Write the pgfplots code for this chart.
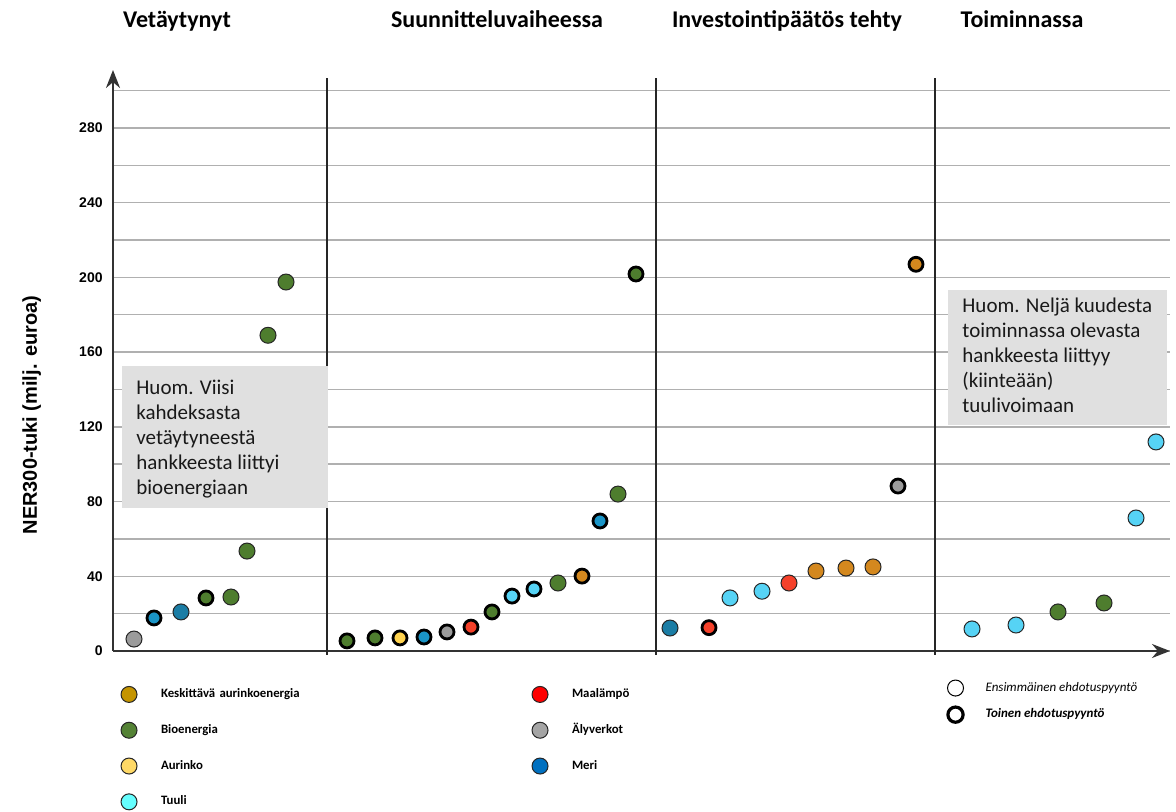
\documentclass[border=0pt]{standalone}
\usepackage{pgfplots}
\pgfplotsset{compat=1.18}
\usepackage{fontspec}
\setmainfont{Carlito}
\newfontfamily\arialf{Liberation Sans}
\usetikzlibrary{arrows.meta}
\definecolor{greenP}{HTML}{4E7D2E}
\definecolor{cyanP}{HTML}{56D3F5}
\definecolor{orangeP}{HTML}{D4881E}
\definecolor{redP}{HTML}{F5412A}
\definecolor{yellowP}{HTML}{FFD34F}
\definecolor{greyP}{HTML}{9B9B9B}
\definecolor{blueA}{HTML}{1A95C7}
\definecolor{blueB}{HTML}{1B7DA5}
\definecolor{lgGold}{HTML}{C49400}
\definecolor{lgBio}{HTML}{548235}
\definecolor{lgSun}{HTML}{FFD966}
\definecolor{lgWind}{HTML}{66FFFF}
\definecolor{lgGeo}{HTML}{FF0000}
\definecolor{lgGrid}{HTML}{A5A5A5}
\definecolor{lgSea}{HTML}{0070C0}
\definecolor{boxgray}{HTML}{E0E0E0}
\definecolor{gridgray}{HTML}{B0B0B0}
\pgfplotsset{
  thinpt/.style={only marks, mark=*, mark size=4pt, forget plot,
     mark options={draw=black!85, line width=0.5pt, fill=#1}},
  thickpt/.style={only marks, mark=*, mark size=3.5pt, forget plot,
     mark options={draw=black, line width=1.4pt, fill=#1}},
  lgpt/.style={only marks, mark=*, mark size=4pt,
     mark options={draw=black!85, line width=0.5pt, fill=#1}},
}
\begin{document}
\begin{tikzpicture}
\begin{axis}[
  name=main, at={(0,0)}, anchor=south west,
  scale only axis, width=528.5pt, height=290.5pt,
  xmin=113, xmax=1170, ymin=0, ymax=311,
  axis x line=bottom, axis y line=left,
  axis line style={draw=black!80, line width=1pt, -{Stealth[length=9pt,width=7pt]}},
  xtick=\empty,
  ytick={0,40,...,280}, minor ytick={20,60,...,300},
  ymajorgrids, yminorgrids,
  major grid style={gridgray, line width=0.75pt},
  minor grid style={gridgray, line width=0.75pt},
  major tick length=0pt, minor tick length=0pt,
  /pgf/number format/assume math mode=true,
  yticklabel style={font=\arialf\bfseries\fontsize{7}{8}\selectfont, inner sep=0pt, xshift=-5pt},
  ylabel={NER300-tuki (milj. euroa)},
  ylabel style={font=\arialf\bfseries\fontsize{10}{12}\selectfont, at={(axis description cs:-0.077,0.406)}, anchor=center},
  clip=false,
  legend image code/.code={\draw[#1] plot coordinates {(0pt,0pt)};},
  transpose legend, legend columns=4, legend cell align=left,
  legend style={at={(axis description cs:0.0076,-0.0610)}, anchor=north west,
    draw=none, fill=none, inner sep=0pt, outer sep=0pt,
    font=\bfseries\fontsize{6.4}{7.5}\selectfont,
    row sep=9.9pt, column sep=0pt,
    /tikz/every odd column/.append style={column sep=12pt},
    nodes={text width=185.5pt, inner sep=0pt, align=left}},
]
% grey
\addplot[thinpt=greyP] coordinates {(134,6.4)};
\addplot[thickpt=greyP] coordinates {(447,10.2) (898,88.3)};
% blue
\addplot[thickpt=blueA] coordinates {(154,17.7) (424,7.5) (600,69.6)};
\addplot[thinpt=blueB] coordinates {(181,20.9) (670,12.3)};
% green
\addplot[thickpt=greenP] coordinates {(206,28.4) (347,5.4) (375,7.0) (492,20.9) (636,201.8)};
\addplot[thinpt=greenP] coordinates {(231,28.9) (247,53.5) (268,169) (286,197.5) (558,36.4) (618,84) (1058,20.9) (1104,25.7)};
% yellow
\addplot[thickpt=yellowP] coordinates {(400,7.0)};
% red
\addplot[thickpt=redP] coordinates {(471,12.8) (709,12.5)};
\addplot[thinpt=redP] coordinates {(789,36.4)};
% cyan
\addplot[thickpt=cyanP] coordinates {(512,29.4) (534,33.2)};
\addplot[thinpt=cyanP] coordinates {(730,28.4) (762,32.0) (972,11.8) (1016,13.9) (1136,71.2) (1156,111.9)};
% orange
\addplot[thickpt=orangeP] coordinates {(582,40.1) (916,207)};
\addplot[thinpt=orangeP] coordinates {(816,42.8) (846,44.4) (873,45.0)};

% legend
\addlegendimage{lgpt=lgGold}\addlegendentry{Keskittävä aurinkoenergia}
\addlegendimage{lgpt=lgBio}\addlegendentry{Bioenergia}
\addlegendimage{lgpt=lgSun}\addlegendentry{Aurinko}
\addlegendimage{lgpt=lgWind}\addlegendentry{Tuuli}
\addlegendimage{lgpt=lgGeo}\addlegendentry{Maalämpö}
\addlegendimage{lgpt=lgGrid}\addlegendentry{Älyverkot}
\addlegendimage{lgpt=lgSea}\addlegendentry{Meri}
\addlegendimage{empty legend}\addlegendentry{}

% section dividers
\draw[black!85, line width=0.8pt] (axis cs:327,-2) -- (axis cs:327,306.5);
\draw[black!85, line width=0.8pt] (axis cs:656,-2) -- (axis cs:656,306.5);
\draw[black!85, line width=0.8pt] (axis cs:935,-2) -- (axis cs:935,306.5);

% headers
\node[anchor=base, font=\bfseries\fontsize{12}{14}\selectfont] at (axis cs:177,333.8) {Vetäytynyt};
\node[anchor=base, font=\bfseries\fontsize{12}{14}\selectfont] at (axis cs:497,333.8) {Suunnitteluvaiheessa};
\node[anchor=base, font=\bfseries\fontsize{12}{14}\selectfont] at (axis cs:787,333.8) {Investointipäätös tehty};
\node[anchor=base, font=\bfseries\fontsize{12}{14}\selectfont] at (axis cs:1022,333.8) {Toiminnassa};

% note boxes
\fill[boxgray] (axis cs:122,76.6) rectangle (axis cs:328,152.6);
\node[anchor=north west, align=left, inner sep=0pt, text=black!90,
  font=\fontsize{10.5}{12.5}\selectfont] at (axis cs:136,145.3)
  {Huom. Viisi\\kahdeksasta\\vetäytyneestä\\hankkeesta liittyi\\bioenergiaan};
\fill[boxgray] (axis cs:948,121) rectangle (axis cs:1167,193.3);
\node[anchor=north west, align=left, inner sep=0pt, text=black!90,
  font=\fontsize{10.5}{12.5}\selectfont] at (axis cs:962,189.2)
  {Huom. Neljä kuudesta\\toiminnassa olevasta\\hankkeesta liittyy\\(kiinteään)\\tuulivoimaan};
\end{axis}

\begin{axis}[
  at={(0,0)}, anchor=south west,
  scale only axis, width=528.5pt, height=290.5pt,
  xmin=0, xmax=1, ymin=0, ymax=1, hide axis,
  legend image code/.code={\draw[#1] plot coordinates {(0pt,0pt)};},
  legend columns=1, legend cell align=left,
  legend style={at={(axis description cs:0.7895,-0.0500)}, anchor=north west,
    draw=none, fill=none, inner sep=0pt, outer sep=0pt,
    row sep=5.5pt, column sep=0pt,
    /tikz/every odd column/.append style={column sep=11pt},
    nodes={inner sep=0pt}},
]
\addlegendimage{only marks, mark=*, mark size=4pt, mark options={draw=black, line width=0.5pt, fill=white}}
\addlegendentry{\itshape\fontsize{6.5}{7.5}\selectfont Ensimmäinen ehdotuspyyntö}
\addlegendimage{only marks, mark=*, mark size=3.8pt, mark options={draw=black, line width=1.6pt, fill=white}}
\addlegendentry{\bfseries\itshape\fontsize{6.5}{7.5}\selectfont Toinen ehdotuspyyntö}
\end{axis}
\pgfresetboundingbox
\path[use as bounding box] (-56.5pt,-80.5pt) rectangle (531.5pt,325.5pt);
\end{tikzpicture}
\end{document}
